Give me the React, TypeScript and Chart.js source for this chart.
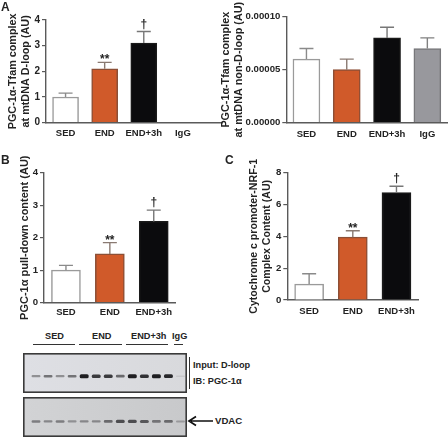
import React, { useEffect, useRef } from "react";
import { Chart, registerables } from "chart.js";

Chart.register(...registerables);

const FONT = "'Liberation Sans', Arial, sans-serif";
const INK = "#232323";

// Panel A
const aLabels = ["SED", "END", "END+3h", "IgG"];
const aValues = [1.0, 2.1, 3.1, 0];
const aErrors = [1.15, 2.35, 3.55, 0];
const aMarks = ["", "**", "†", ""];
// Panel A, right
const rLabels = ["SED", "END", "END+3h", "IgG"];
const rValues = [0.00006, 0.00005, 0.00008, 0.00007];
const rErrors = [0.00007, 0.00006, 0.00009, 0.00008];
const rMarks = ["", "", "", ""];
// Panel B
const bLabels = ["SED", "END", "END+3h"];
const bValues = [1.0, 1.5, 2.5];
const bErrors = [1.15, 1.85, 2.85];
const bMarks = ["", "**", "†"];
// Panel C
const cLabels = ["SED", "END", "END+3h"];
const cValues = [1.0, 3.95, 6.75];
const cErrors = [1.65, 4.35, 7.15];
const cMarks = ["", "**", "†"];
// Blot band intensities per lane
const laneLabels = ["1", "2", "3", "4", "5", "6", "7", "8", "9", "10", "11", "12", "13"];
const pgcBands = [0.35, 0.5, 0.35, 0.5, 0.95, 0.8, 0.8, 0.55, 0.95, 0.85, 0.95, 0.9, 0.06];
const vdacBands = [0.45, 0.4, 0.45, 0.35, 0.4, 0.4, 0.55, 0.7, 0.7, 0.65, 0.5, 0.55, 0.3];

const fills = ["#ffffff", "#d05a2a", "#0b0b0d", "#98989d"];
const edges = ["#9a9a9a", "#8c4f36", "#1a1a1a", "#77777a"];
const whisker = ["#8a8a8a", "#8a7a72", "#777777", "#808080"];

type PanelCfg = {
  box: [number, number, number, number];
  plot: [number, number, number, number];
  labels: string[];
  values: number[];
  errors: number[];
  marks: string[];
  yMax: number;
  step: number;
  xMax: number;
  bar: number;
  title: string | string[];
  titleSize: number;
  tickSize: number;
  digits: number;
  xPad: number;
};

const panels: PanelCfg[] = [
  { box: [6, 0, 218, 142], plot: [46, 20, 222, 122.7], labels: aLabels, values: aValues, errors: aErrors, marks: aMarks, yMax: 4, step: 1, xMax: 4, bar: 26, title: ["PGC-1α-Tfam complex", "at mtDNA D-loop (AU)"], titleSize: 10.8, tickSize: 10, digits: 0, xPad: 5 },
  { box: [219, 0, 229, 142], plot: [286.3, 16.7, 447.5, 122.7], labels: rLabels, values: rValues, errors: rErrors, marks: rMarks, yMax: 0.0001, step: 0.00005, xMax: 3.5, bar: 27, title: ["PGC-1α-Tfam complex", "at mtDNA non-D-loop (AU)"], titleSize: 10.8, tickSize: 9.6, digits: 5, xPad: 5.5 },
  { box: [18, 150, 206, 170], plot: [44, 172.7, 175.7, 302.7], labels: bLabels, values: bValues, errors: bErrors, marks: bMarks, yMax: 4, step: 1, xMax: 2.5, bar: 29, title: "PGC-1α pull-down content (AU)", titleSize: 11, tickSize: 9.6, digits: 0, xPad: 4 },
  { box: [247, 150, 201, 170], plot: [287.3, 172.7, 418.3, 300], labels: cLabels, values: cValues, errors: cErrors, marks: cMarks, yMax: 8, step: 2, xMax: 2.5, bar: 29, title: ["Cytochrome c promoter-NRF-1", "Complex Content (AU)"], titleSize: 10.6, tickSize: 9.6, digits: 0, xPad: 6 },
];

function makePanel(canvas: HTMLCanvasElement, p: PanelCfg) {
  const [cx, cy, cw, ch] = p.box;
  const [pl, pt, pr, pb] = p.plot;
  const errorPlugin = {
    id: "errorsAndMarks",
    afterDatasetsDraw(chart: any) {
      const { ctx, scales } = chart;
      ctx.save();
      p.values.forEach((v, i) => {
        if (!v) return;
        const x = scales.x.getPixelForValue(i);
        const y0 = scales.y.getPixelForValue(v);
        const y1 = scales.y.getPixelForValue(p.errors[i]);
        ctx.strokeStyle = whisker[i];
        ctx.lineWidth = 1.4;
        ctx.beginPath();
        ctx.moveTo(x, y0);
        ctx.lineTo(x, y1);
        ctx.moveTo(x - 7, y1);
        ctx.lineTo(x + 7, y1);
        ctx.stroke();
        if (p.marks[i]) {
          ctx.fillStyle = INK;
          ctx.font = `bold 12px ${FONT}`;
          ctx.textAlign = "center";
          ctx.textBaseline = "alphabetic";
          ctx.fillText(p.marks[i], x, y1 - (p.marks[i] === "†" ? 4 : -1));
        }
      });
      ctx.restore();
    },
  };
  return new Chart(canvas, {
    type: "bar",
    data: {
      datasets: [
        {
          data: p.values.map((y, x) => ({ x, y })),
          backgroundColor: fills.slice(0, p.values.length),
          borderColor: edges.slice(0, p.values.length),
          borderWidth: 1.5,
          barThickness: p.bar,
        },
      ],
    },
    options: {
      animation: false,
      responsive: false,
      layout: { autoPadding: false, padding: { left: 0, top: pt - cy, right: cx + cw - pr, bottom: 0 } },
      plugins: { legend: { display: false }, tooltip: { enabled: false } },
      scales: {
        x: {
          type: "linear",
          offset: false,
          min: -0.5,
          max: p.xMax,
          afterBuildTicks: (s: any) => {
            s.ticks = p.labels.map((_, value) => ({ value }));
          },
          afterFit: (s: any) => {
            s.height = cy + ch - pb;
          },
          border: { color: "#5a5a5a", width: 1.4 },
          grid: { display: false, drawTicks: false, offset: false },
          ticks: {
            autoSkip: false,
            maxRotation: 0,
            padding: p.xPad,
            color: INK,
            font: { family: FONT, weight: "bold", size: 9.5 },
            callback: (v: any) => p.labels[v as number] ?? "",
          },
        },
        y: {
          min: 0,
          max: p.yMax,
          afterFit: (s: any) => {
            s.width = pl - cx;
          },
          border: { color: "#5a5a5a", width: 1.4 },
          grid: { drawOnChartArea: false, drawTicks: true, tickLength: 4, color: "#5a5a5a", lineWidth: 1.2 },
          ticks: {
            stepSize: p.step,
            padding: 2,
            color: INK,
            font: { family: FONT, weight: "bold", size: p.tickSize },
            callback: (v: any) => Number(v).toFixed(p.digits),
          },
          title: {
            display: true,
            text: p.title,
            color: INK,
            padding: 0,
            font: { family: FONT, weight: "bold", size: p.titleSize, lineHeight: 1.25 },
          },
        },
      },
    } as any,
    plugins: [errorPlugin],
  } as any);
}

type BlotCfg = { box: [number, number, number, number]; bands: number[]; bg: [string, string]; centre: number };
const blots: BlotCfg[] = [
  { box: [23, 353, 164, 40], bands: pgcBands, bg: ["#dedfe4", "#d8d9dc"], centre: 0.42 },
  { box: [23, 396.5, 164, 40], bands: vdacBands, bg: ["#d2d3d5", "#c8c9cb"], centre: 0.39 },
];

function makeBlot(canvas: HTMLCanvasElement, b: BlotCfg) {
  const framePlugin = {
    id: "frame",
    beforeDatasetsDraw(chart: any) {
      const { ctx, width, height } = chart;
      ctx.save();
      const g = ctx.createLinearGradient(0, 0, width, 0);
      g.addColorStop(0, b.bg[0]);
      g.addColorStop(1, b.bg[1]);
      ctx.fillStyle = g;
      ctx.fillRect(0, 0, width, height);
      ctx.restore();
    },
    afterDatasetsDraw(chart: any) {
      const { ctx, width, height } = chart;
      ctx.save();
      ctx.strokeStyle = "#3a3a3a";
      ctx.lineWidth = 1.6;
      ctx.strokeRect(0.8, 0.8, width - 1.6, height - 1.6);
      ctx.restore();
    },
  };
  return new Chart(canvas, {
    type: "bar",
    data: {
      labels: laneLabels,
      datasets: [
        {
          data: b.bands.map((v) => [b.centre - 0.015 - v * 0.035, b.centre + 0.015 + v * 0.035]),
          backgroundColor: b.bands.map((v) => {
            const g = Math.round(210 - 190 * v);
            return `rgb(${g},${g},${g + 3})`;
          }),
          barPercentage: 0.74,
          categoryPercentage: 1,
          borderRadius: 1.5,
          borderSkipped: false,
        },
      ],
    },
    options: {
      animation: false,
      responsive: false,
      layout: { autoPadding: false, padding: { left: 7, right: 0.5, top: 0, bottom: 0 } },
      plugins: { legend: { display: false }, tooltip: { enabled: false } },
      scales: {
        x: { display: false, offset: true },
        y: { display: false, min: 0, max: 1 },
      },
    } as any,
    plugins: [framePlugin],
  } as any);
}

const texts: [string, number, number, number][] = [
  ["A", 1, 7, 12],
  ["B", 1, 160, 12],
  ["C", 225, 160, 12],
  ["SED", 45, 337, 9.2],
  ["END", 92, 337, 9.2],
  ["END+3h", 131, 337, 9.2],
  ["IgG", 172, 337, 9.2],
  ["Input: D-loop", 193, 366, 9.2],
  ["IB: PGC-1α", 193, 381.5, 9.2],
  ["VDAC", 215, 421, 9.6],
];
const rules: [number, number, number, number][] = [
  [33, 343.5, 42, 1.3],
  [79, 343.5, 43, 1.3],
  [126, 343.5, 42, 1.3],
  [174, 343.5, 9, 1.3],
  [188.5, 357, 1.4, 32],
];

export default function App() {
  const panelRefs = useRef<(HTMLCanvasElement | null)[]>([]);
  const blotRefs = useRef<(HTMLCanvasElement | null)[]>([]);
  useEffect(() => {
    const charts = [
      ...panels.map((p, i) => makePanel(panelRefs.current[i]!, p)),
      ...blots.map((b, i) => makeBlot(blotRefs.current[i]!, b)),
    ];
    return () => charts.forEach((c) => c.destroy());
  }, []);
  const abs = (x: number, y: number): React.CSSProperties => ({ position: "absolute", left: x, top: y });
  return (
    <div style={{ position: "fixed", left: 0, top: 0, width: 448, height: 437, overflow: "hidden", background: "#fff", filter: "blur(0.4px)" }}>
      {panels.map((p, i) => (
        <canvas
          key={i}
          ref={(el) => {
            panelRefs.current[i] = el;
          }}
          width={p.box[2]}
          height={p.box[3]}
          style={{ ...abs(p.box[0], p.box[1]), width: p.box[2], height: p.box[3] }}
        />
      ))}
      {blots.map((b, i) => (
        <canvas
          key={i}
          ref={(el) => {
            blotRefs.current[i] = el;
          }}
          width={b.box[2]}
          height={b.box[3]}
          style={{ ...abs(b.box[0], b.box[1]), width: b.box[2], height: b.box[3] }}
        />
      ))}
      {texts.map(([t, x, y, s]) => (
        <div
          key={t}
          style={{ ...abs(x, y), transform: "translateY(-50%)", font: `bold ${s}px ${FONT}`, color: INK, whiteSpace: "nowrap", lineHeight: 1 }}
        >
          {t}
        </div>
      ))}
      {rules.map(([x, y, w, h], i) => (
        <div key={i} style={{ ...abs(x, y), width: w, height: h, background: "#333" }} />
      ))}
      <svg width={28} height={12} style={abs(187, 415)}>
        <path d="M26 6 H4 M9 1.5 L2 6 L9 10.5" fill="none" stroke="#111" strokeWidth={1.7} />
      </svg>
    </div>
  );
}
